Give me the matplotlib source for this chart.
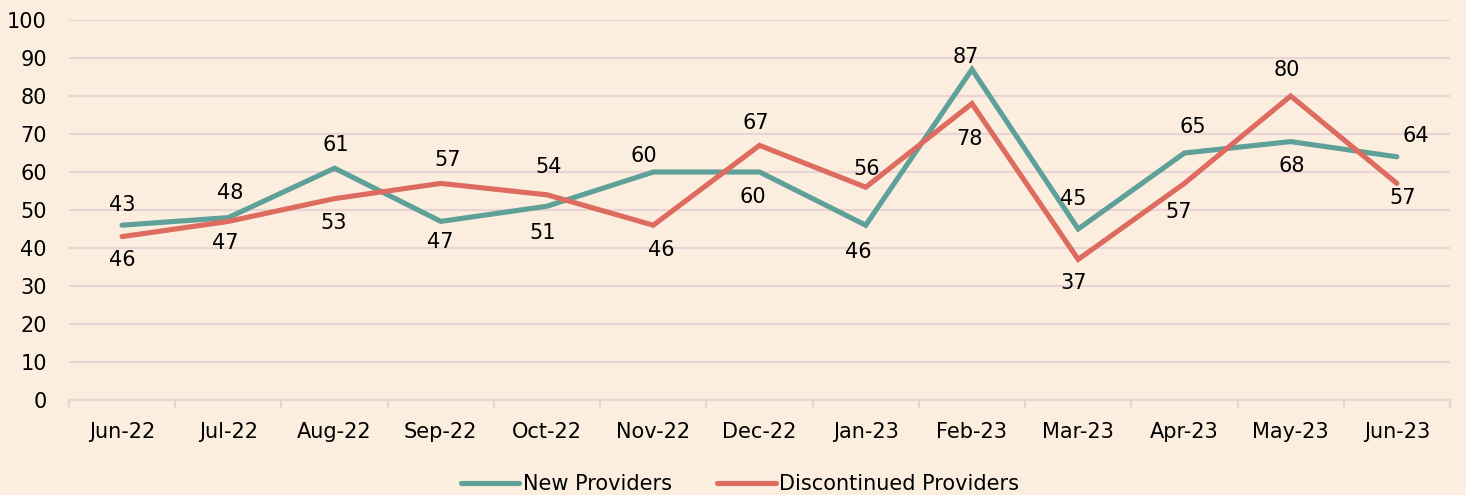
import matplotlib
matplotlib.use("Agg")
import matplotlib.pyplot as plt
from matplotlib.ticker import MultipleLocator, FixedLocator

months = ["Jun-22", "Jul-22", "Aug-22", "Sep-22", "Oct-22", "Nov-22", "Dec-22",
          "Jan-23", "Feb-23", "Mar-23", "Apr-23", "May-23", "Jun-23"]
new_providers = [46, 48, 61, 47, 51, 60, 60, 46, 87, 45, 65, 68, 64]
discontinued_providers = [43, 47, 53, 57, 54, 46, 67, 56, 78, 37, 57, 80, 57]

# label offsets in pixels (dx, dy with screen y pointing down)
new_label_offsets = [(0, 35), (2, -25), (1, -23), (-1, 21), (-4, 27), (-9, -16), (-7, 25),
                     (-7, 27), (-6, -12), (-5, -30), (8, -26), (1, 24), (19, -21)]
disc_label_offsets = [(0, -32), (-3, 22), (-1, 24), (7, -23), (2, -28), (8, 25), (-4, -22),
                      (1, -18), (-3, 35), (-5, 24), (-6, 29), (-4, -26), (6, 15)]

BG = "#FCEEDF"
GRID = "#E9D3D4"
TEAL = "#5FA199"
RED = "#DE6B5F"
FS = 15

plt.rcParams["font.family"] = ["DejaVu Sans"]

fig = plt.figure(figsize=(14.66, 4.95), dpi=100, facecolor=BG)
ax = fig.add_axes([69 / 1466, 1 - 400 / 495, (1450 - 69) / 1466, 380 / 495])
ax.set_facecolor(BG)

x = list(range(len(months)))
ax.plot(x, new_providers, color=TEAL, lw=3.7, label="New Providers", zorder=3,
        solid_capstyle="round", solid_joinstyle="miter")
ax.plot(x, discontinued_providers, color=RED, lw=3.7, label="Discontinued Providers", zorder=3,
        solid_capstyle="round", solid_joinstyle="miter")

for xi, v, (dx, dy) in zip(x, new_providers, new_label_offsets):
    ax.annotate(str(v), (xi, v), xytext=(dx, -dy), textcoords="offset pixels",
                ha="center", va="center", fontsize=FS, color="black", zorder=4)
for xi, v, (dx, dy) in zip(x, discontinued_providers, disc_label_offsets):
    ax.annotate(str(v), (xi, v), xytext=(dx, -dy), textcoords="offset pixels",
                ha="center", va="center", fontsize=FS, color="black", zorder=4)

ax.set_xlim(-0.5, len(months) - 0.5)
ax.set_ylim(0, 100)
ax.yaxis.set_major_locator(MultipleLocator(10))
ax.grid(axis="y", color=GRID, lw=1.6, zorder=0)
ax.set_axisbelow(True)

ax.set_xticks(x)
ax.set_xticklabels(months)
ax.xaxis.set_minor_locator(FixedLocator([i - 0.5 for i in range(len(months) + 1)]))
ax.tick_params(axis="x", which="major", length=0, pad=16, labelsize=FS)
ax.tick_params(axis="x", which="minor", length=5.5, width=1.6, color=GRID)
ax.tick_params(axis="y", which="both", length=0, pad=16, labelsize=FS)

for s in ["top", "right", "left"]:
    ax.spines[s].set_visible(False)
ax.spines["bottom"].set_color(GRID)
ax.spines["bottom"].set_linewidth(1.6)

fig.legend(loc="center", bbox_to_anchor=(740 / 1466, 1 - 484 / 495), ncol=2,
           frameon=False, fontsize=FS, handlelength=2.8, handletextpad=0.15,
           columnspacing=2.2)

fig.savefig("out.png", dpi=100, facecolor=BG)
